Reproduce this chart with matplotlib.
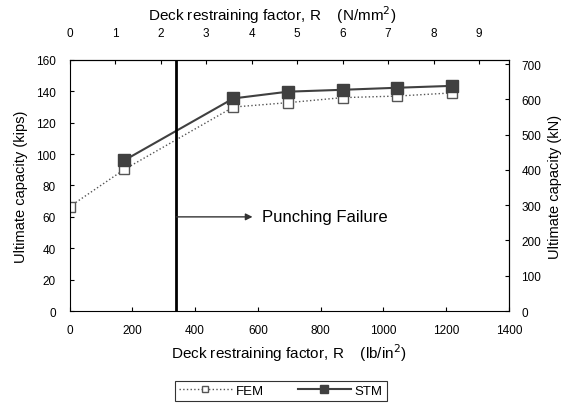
import matplotlib
matplotlib.use('Agg')
import matplotlib.pyplot as plt

plt.rcParams['font.family'] = ['Liberation Sans', 'DejaVu Sans']

# deck restraining factor (lb/in^2)
r_fem = [0, 174, 522, 696, 870, 1044, 1218]
cap_fem = [66.5, 90.2, 130.0, 132.8, 136.0, 137.0, 139.0]

r_stm = [174, 522, 696, 870, 1044, 1218]
cap_stm = [96.0, 135.5, 139.8, 141.0, 142.3, 143.5]

r_punch = 340
PSI_TO_MPA = 0.006895
KIP_TO_KN = 4.448

fig = plt.figure(figsize=(5.66, 4.06), dpi=100)
ax = fig.add_axes([0.123, 0.2315, 0.776, 0.6183])

ax.plot(r_fem, cap_fem, linestyle=':', color='#555555', linewidth=1.0,
        marker='s', markersize=7, markerfacecolor='white',
        markeredgecolor='#555555', markeredgewidth=1.0, label='FEM')
ax.plot(r_stm, cap_stm, linestyle='-', color='#404040', linewidth=1.5,
        marker='s', markersize=8, markerfacecolor='#404040',
        markeredgecolor='#404040', label='STM')

ax.axvline(r_punch, color='black', linewidth=2)
ax.annotate('', xy=(583, 60), xytext=(r_punch, 60),
            arrowprops=dict(arrowstyle='-|>', color='#333333', lw=1.0,
                            mutation_scale=10, shrinkA=0, shrinkB=0))
ax.text(612, 60, 'Punching Failure', fontsize=12, va='center', ha='left')

ax.set_xlim(0, 1400)
ax.set_ylim(0, 160)
ax.set_xticks(range(0, 1401, 200))
ax.set_yticks(range(0, 161, 20))
ax.tick_params(direction='in', length=3, labelsize=8.5)
ax.tick_params(axis='x', pad=9)
ax.tick_params(axis='y', pad=10)
ax.set_xlabel('Deck restraining factor, R    (lb/in$^2$)', fontsize=11, labelpad=4)
ax.set_ylabel('Ultimate capacity (kips)', fontsize=10.5, labelpad=6)

top = ax.secondary_xaxis('top', functions=(lambda x: x * PSI_TO_MPA,
                                           lambda x: x / PSI_TO_MPA))
top.set_xticks(range(0, 10))
top.tick_params(direction='in', length=3, labelsize=8.5, pad=15)
# top title sits a little left of centre in the original
fig.text(0.48, 0.963, 'Deck restraining factor, R    (N/mm$^2$)',
         fontsize=11, ha='center', va='center')

right = ax.secondary_yaxis('right', functions=(lambda y: y * KIP_TO_KN,
                                               lambda y: y / KIP_TO_KN))
right.set_yticks(range(0, 701, 100))
right.tick_params(direction='in', length=3, labelsize=8.5, pad=9)
right.set_ylabel('Ultimate capacity (kN)', fontsize=10.5, labelpad=5)

leg = fig.legend(loc='center', bbox_to_anchor=(0.496, 0.0345), ncol=2,
                 fontsize=9.5, frameon=True, fancybox=False, edgecolor='black',
                 handlelength=4.0, handletextpad=0.3, columnspacing=2.6,
                 borderpad=0.3)
leg.get_frame().set_linewidth(0.8)
leg.legend_handles[0].set_markersize(5)
leg.legend_handles[1].set_markersize(6)

fig.savefig('out.png', dpi=100)
